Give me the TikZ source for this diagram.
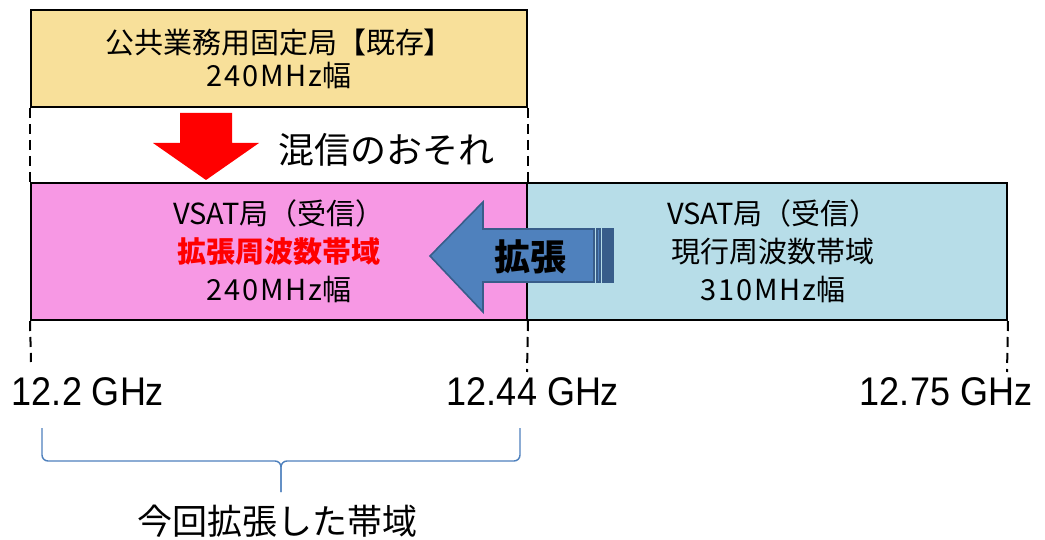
\documentclass[tikz,border=0pt]{standalone}
\usepackage{fontspec}
\usepackage{xcolor}
\newfontfamily\cjk{Noto Sans CJK JP}
\newfontfamily\narrowfont[FakeStretch=0.9]{Liberation Sans}
\newcommand{\wide}[1]{{\addfontfeature{LetterSpace=6}#1}}
\usepackage{tikz}
\usetikzlibrary{positioning}

\definecolor{bandgold}{HTML}{F8E09A}
\definecolor{bandpink}{HTML}{F798E4}
\definecolor{bandaqua}{HTML}{B7DDE8}
\definecolor{arrowblue}{HTML}{4F81BD}
\definecolor{arrowedge}{HTML}{385D8A}

\begin{document}
\begin{tikzpicture}[
  x=0.5pt, y=-0.5pt,
  band/.style={
    draw,
    line width=1pt,
    inner sep=0pt,
    align=center,
    font=\cjk\fontsize{14.5}{19}\selectfont
  },
  guide/.style={
    line width=1pt,
    dash pattern=on 5pt off 3pt
  },
  freq/.style={
    inner sep=0pt,
    font=\narrowfont\fontsize{20}{24}\selectfont
  },
  note/.style={
    inner sep=0pt,
    font=\cjk\fontsize{18}{22}\selectfont
  },
  brace/.style={
    draw=arrowblue,
    line width=0.7pt,
    rounded corners=3pt
  }
]
\path[fill=white] (0,0) rectangle (1045,540);

% Bands
\node[band, fill=bandgold, minimum width=248pt, minimum height=48.5pt,
  font=\cjk\fontsize{14.5}{16.5}\selectfont] (fixed) at (279,58.5)
  {公共業務用固定局【既存】\\\wide{240MHz}幅};
\node[band, fill=bandpink, minimum width=248pt, minimum height=68.5pt] (newband) at (279,251.5)
  {VSAT局（受信）\\\textcolor{red}{\bfseries 拡張周波数帯域}\\\wide{240MHz}幅};
\node[band, fill=bandaqua, minimum width=240pt, minimum height=68.5pt] (oldband) at (767,251.5)
  {\hspace*{6pt}VSAT局（受信）\\\hspace*{6pt}現行周波数帯域\\\hspace*{6pt}\wide{310MHz}幅};

% Dashed guides
\coordinate (g1) at (31,362);
\coordinate (g2) at (527,372);
\coordinate (g3) at (1007,372);
\draw[guide] (fixed.south west) -- (newband.north west);
\draw[guide] (fixed.south east) -- (newband.north east);
\draw[guide] (newband.south west) -- (g1);
\draw[guide] (newband.south east) -- (g2);
\draw[guide] (oldband.south east) -- (g3);

% Interference arrow
\fill[red] (180,113) -- (232,113) -- (232,143) -- (259,143) -- (206,180)
  -- (153,143) -- (180,143) -- cycle;
\node[note, anchor=west] (risk) at (278,150) {混信のおそれ};

% Expansion arrow
\filldraw[fill=arrowblue, draw=arrowedge, line width=0.8pt]
  (430,256) -- (483,202) -- (483,229) -- (594,229) -- (594,282)
  -- (483,282) -- (483,312) -- cycle;
\filldraw[fill=arrowblue, draw=arrowedge, line width=0.8pt] (597,229) rectangle (600,282);
\filldraw[fill=arrowedge, draw=arrowedge, line width=0.8pt] (603,229) rectangle (613,282);
\node[note, font=\cjk\bfseries\fontsize{18}{22}\selectfont] (expand) at (530,257) {拡張};

% Frequency labels
\node[freq] (f1) at (88,392) {12.2 GHz};
\node[freq] (f2) at (533,392) {12.44 GHz};
\node[freq] (f3) at (946,392) {12.75 GHz};

% Brace under the new band
\coordinate (bl) at (42,428);
\coordinate (br) at (520,428);
\coordinate (bc) at (281,492);
\draw[brace] (bl) -- (42,461) -- (281,461) -- (bc);
\draw[brace] (br) -- (520,461) -- (281,461) -- (bc);
\node[note, font=\cjk\fontsize{17.5}{21}\selectfont] (span) at (277,521) {今回拡張した帯域};
\end{tikzpicture}
\end{document}
